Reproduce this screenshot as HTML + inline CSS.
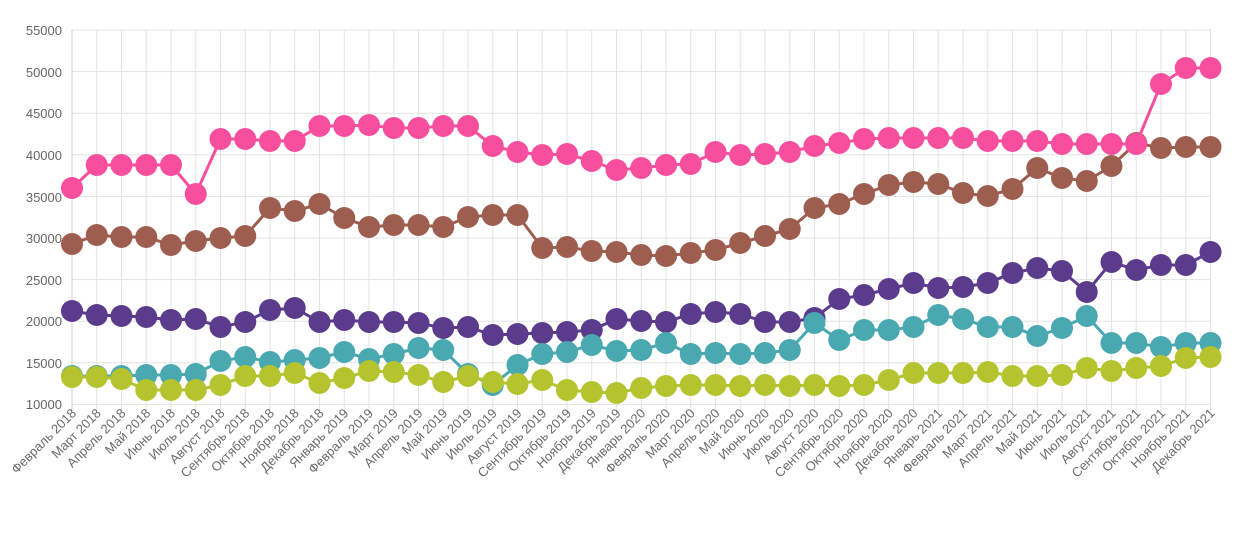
<!DOCTYPE html>
<html><head><meta charset="utf-8"><style>html,body{margin:0;padding:0;background:#fff}svg{display:block}text{font-family:"Liberation Sans",sans-serif}</style></head>
<body>
<svg id="c" width="1255" height="555" xmlns="http://www.w3.org/2000/svg">
<g id="grid" stroke="#e3e3e3" stroke-width="1"></g>
<g fill="#666" font-size="13" text-anchor="end">
<text x="62" y="35">55000</text><text x="62" y="77">50000</text><text x="62" y="118">45000</text><text x="62" y="160">40000</text><text x="62" y="202">35000</text><text x="62" y="243">30000</text><text x="62" y="285">25000</text><text x="62" y="326">20000</text><text x="62" y="368">15000</text><text x="62" y="409">10000</text>
</g>
<g id="series"></g>
<g fill="#6a6a6a" font-size="13" text-anchor="end" id="xl">
<text transform="translate(77,414) rotate(-45)">Февраль 2018</text>
<text transform="translate(101.75,414) rotate(-45)">Март 2018</text>
<text transform="translate(126.5,414) rotate(-45)">Апрель 2018</text>
<text transform="translate(151.25,414) rotate(-45)">Май 2018</text>
<text transform="translate(176,414) rotate(-45)">Июнь 2018</text>
<text transform="translate(200.75,414) rotate(-45)">Июль 2018</text>
<text transform="translate(225.5,414) rotate(-45)">Август 2018</text>
<text transform="translate(250.25,414) rotate(-45)">Сентябрь 2018</text>
<text transform="translate(275,414) rotate(-45)">Октябрь 2018</text>
<text transform="translate(299.75,414) rotate(-45)">Ноябрь 2018</text>
<text transform="translate(324.5,414) rotate(-45)">Декабрь 2018</text>
<text transform="translate(349.25,414) rotate(-45)">Январь 2019</text>
<text transform="translate(374,414) rotate(-45)">Февраль 2019</text>
<text transform="translate(398.75,414) rotate(-45)">Март 2019</text>
<text transform="translate(423.5,414) rotate(-45)">Апрель 2019</text>
<text transform="translate(448.25,414) rotate(-45)">Май 2019</text>
<text transform="translate(473,414) rotate(-45)">Июнь 2019</text>
<text transform="translate(497.75,414) rotate(-45)">Июль 2019</text>
<text transform="translate(522.5,414) rotate(-45)">Август 2019</text>
<text transform="translate(547.25,414) rotate(-45)">Сентябрь 2019</text>
<text transform="translate(572,414) rotate(-45)">Октябрь 2019</text>
<text transform="translate(596.75,414) rotate(-45)">Ноябрь 2019</text>
<text transform="translate(621.5,414) rotate(-45)">Декабрь 2019</text>
<text transform="translate(646.25,414) rotate(-45)">Январь 2020</text>
<text transform="translate(671,414) rotate(-45)">Февраль 2020</text>
<text transform="translate(695.75,414) rotate(-45)">Март 2020</text>
<text transform="translate(720.5,414) rotate(-45)">Апрель 2020</text>
<text transform="translate(745.25,414) rotate(-45)">Май 2020</text>
<text transform="translate(770,414) rotate(-45)">Июнь 2020</text>
<text transform="translate(794.75,414) rotate(-45)">Июль 2020</text>
<text transform="translate(819.5,414) rotate(-45)">Август 2020</text>
<text transform="translate(844.25,414) rotate(-45)">Сентябрь 2020</text>
<text transform="translate(869,414) rotate(-45)">Октябрь 2020</text>
<text transform="translate(893.75,414) rotate(-45)">Ноябрь 2020</text>
<text transform="translate(918.5,414) rotate(-45)">Декабрь 2020</text>
<text transform="translate(943.25,414) rotate(-45)">Январь 2021</text>
<text transform="translate(968,414) rotate(-45)">Февраль 2021</text>
<text transform="translate(992.75,414) rotate(-45)">Март 2021</text>
<text transform="translate(1017.5,414) rotate(-45)">Апрель 2021</text>
<text transform="translate(1042.25,414) rotate(-45)">Май 2021</text>
<text transform="translate(1067,414) rotate(-45)">Июнь 2021</text>
<text transform="translate(1091.75,414) rotate(-45)">Июль 2021</text>
<text transform="translate(1116.5,414) rotate(-45)">Август 2021</text>
<text transform="translate(1141.25,414) rotate(-45)">Сентябрь 2021</text>
<text transform="translate(1166,414) rotate(-45)">Октябрь 2021</text>
<text transform="translate(1190.75,414) rotate(-45)">Ноябрь 2021</text>
<text transform="translate(1215.5,414) rotate(-45)">Декабрь 2021</text>
</g>
</svg>
<script>
function X(i){return 72+i*24.75;}
var g=document.getElementById('grid'),s="";
for(var k=0;k<10;k++){var y=30+k*41.6;s+='<line x1="72" x2="1211" y1="'+y+'" y2="'+y+'"/>';}
for(var i=0;i<47;i++){s+='<line x1="'+X(i)+'" x2="'+X(i)+'" y1="30" y2="412"/>';}
s+='<line x1="72" x2="72" y1="30" y2="412" stroke="#ccc"/>';
g.innerHTML=s;
var D=[
["#5b3b8c",[311,315,316,317,320,319,327,322,310,308,322,320,322,322,323,328,327,335,334,333,332,330,319,321,322,314,312,314,322,322,318,299,295,289,283,288,287,283,273,268,271,292,262,270,265,265,252]],
["#4aa8b0",[376,376,376,375,375,374,361,357,362,360,358,352,359,354,348,350,374,385,365,354,352,345,351,350,343,354,353,354,353,350,323,340,330,330,327,315,319,327,327,336,328,316,343,343,347,343,343]],
["#b5c42e",[377,377,379,390,390,390,385,376,376,373,383,378,371,372,375,382,376,382,384,380,390,392,393,388,386,385,385,386,385,386,385,386,385,380,373,373,373,372,376,376,375,368,371,368,366,358,357]],
["#9e5e4f",[244,235,237,237,245,241,238,236,208,211,204,218,227,225,225,227,217,215,215,248,247,251,252,255,256,253,250,243,236,229,208,204,194,185,182,184,193,196,189,168,178,181,166,143,148,147,147]],
["#f74f9e",[188,165,165,165,165,194,139,139,141,141,126,126,125,128,128,126,126,146,152,155,154,161,170,168,165,164,152,155,154,152,146,143,139,138,138,138,138,141,141,141,144,144,144,144,84,68,68]]
];
var h="";
D.forEach(function(d){var p=d[1].map(function(y,i){return X(i)+','+y;}).join(' ');
h+='<polyline fill="none" stroke="'+d[0]+'" stroke-width="3" points="'+p+'"/>';
d[1].forEach(function(y,i){h+='<circle cx="'+X(i)+'" cy="'+y+'" r="11" fill="'+d[0]+'"/>';});});
document.getElementById('series').innerHTML=h;
</script>
</body></html>
